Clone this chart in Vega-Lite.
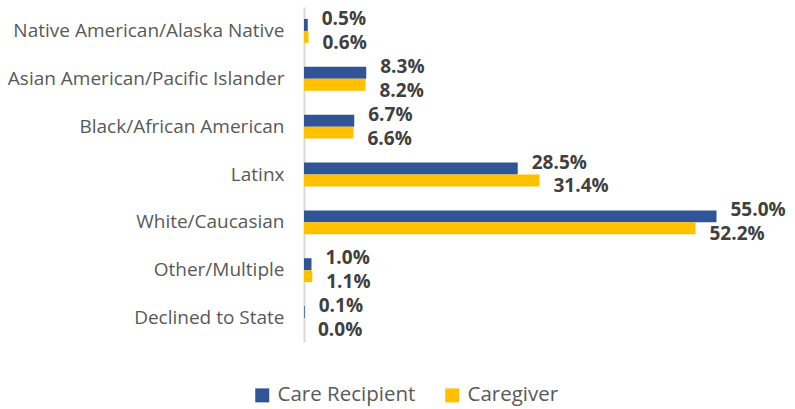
{
  "$schema": "https://vega.github.io/schema/vega-lite/v6.json",
  "width": 450,
  "height": 335,
  "autosize": {"type": "none"},
  "padding": {"left": 304, "top": 7, "right": 41, "bottom": 67},
  "background": "white",
  "config": {"view": {"stroke": null}, "font": "Open Sans"},
  "data": {"values": [
    {"cat": "Native American/Alaska Native", "series": "Care Recipient", "v": 0.005},
    {"cat": "Native American/Alaska Native", "series": "Caregiver", "v": 0.006},
    {"cat": "Asian American/Pacific Islander", "series": "Care Recipient", "v": 0.083},
    {"cat": "Asian American/Pacific Islander", "series": "Caregiver", "v": 0.082},
    {"cat": "Black/African American", "series": "Care Recipient", "v": 0.067},
    {"cat": "Black/African American", "series": "Caregiver", "v": 0.066},
    {"cat": "Latinx", "series": "Care Recipient", "v": 0.285},
    {"cat": "Latinx", "series": "Caregiver", "v": 0.314},
    {"cat": "White/Caucasian", "series": "Care Recipient", "v": 0.55},
    {"cat": "White/Caucasian", "series": "Caregiver", "v": 0.522},
    {"cat": "Other/Multiple", "series": "Care Recipient", "v": 0.01},
    {"cat": "Other/Multiple", "series": "Caregiver", "v": 0.011},
    {"cat": "Declined to State", "series": "Care Recipient", "v": 0.001},
    {"cat": "Declined to State", "series": "Caregiver", "v": 0.0}
  ]},
  "encoding": {
    "y": {"field": "cat", "type": "nominal", "sort": null,
      "scale": {"paddingInner": 0.5, "paddingOuter": 0.25},
      "axis": {"title": null, "ticks": false, "labelPadding": 20, "labelFontSize": 19, "labelColor": "#595959", "domainColor": "#d9d9d9", "domainWidth": 2, "labelLimit": 400}},
    "x": {"field": "v", "type": "quantitative", "scale": {"domain": [0, 0.6], "nice": false}, "axis": null},
    "yOffset": {"field": "series", "type": "nominal", "sort": ["Care Recipient", "Caregiver"], "scale": {"paddingInner": 0, "paddingOuter": 0}}
  },
  "layer": [
    {
      "mark": {"type": "bar"},
      "encoding": {
        "color": {"field": "series", "type": "nominal",
          "scale": {"domain": ["Care Recipient", "Caregiver"], "range": ["#2F5597", "#FFC000"]},
          "legend": {"title": null, "orient": "none", "direction": "horizontal", "legendX": -52, "legendY": 378,
            "symbolType": "square", "symbolSize": 196, "symbolStrokeWidth": 0, "labelFontSize": 20.5, "labelColor": "#595959",
            "labelOffset": 5, "columnPadding": 26}}
      }
    },
    {
      "transform": [{"filter": "datum.series == 'Care Recipient'"}],
      "mark": {"type": "text", "align": "left", "baseline": "middle", "dx": 14, "dy": -6, "fontSize": 19, "fontWeight": "bold", "color": "#404040"},
      "encoding": {"text": {"field": "v", "type": "quantitative", "format": ".1%"}}
    },
    {
      "transform": [{"filter": "datum.series == 'Caregiver'"}],
      "mark": {"type": "text", "align": "left", "baseline": "middle", "dx": 14, "dy": 6, "fontSize": 19, "fontWeight": "bold", "color": "#404040"},
      "encoding": {"text": {"field": "v", "type": "quantitative", "format": ".1%"}}
    }
  ]
}
